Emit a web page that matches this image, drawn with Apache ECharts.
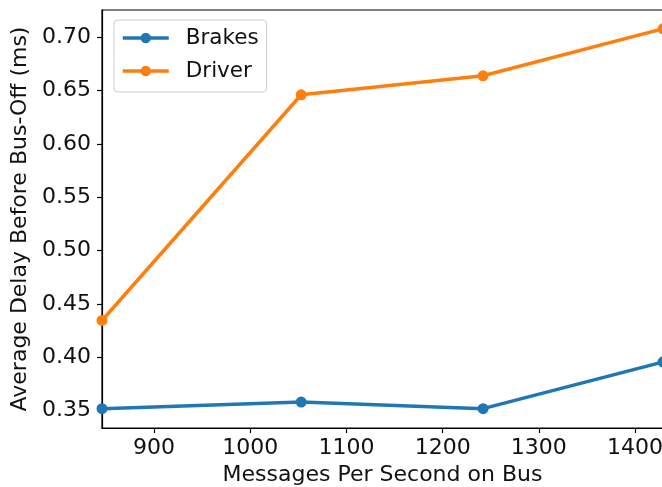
<!DOCTYPE html>
<html>
<head>
<meta charset="utf-8">
<script src="https://cdn.jsdelivr.net/npm/echarts@6/dist/echarts.min.js"></script>
<style>
html,body{margin:0;padding:0;background:#fff;}
#chart{width:662px;height:487px;}
</style>
</head>
<body>
<div id="chart"></div>
<script>
const messagesPerSecond = [846, 1053, 1242, 1429];
const brakesDelay = [0.3519, 0.3581, 0.3519, 0.3956];
const driverDelay = [0.4345, 0.6459, 0.6637, 0.7077];
const xTicks = [900, 1000, 1100, 1200, 1300, 1400];
const yTicks = [0.35, 0.40, 0.45, 0.50, 0.55, 0.60, 0.65, 0.70];
const seriesNames = ['Brakes', 'Driver'];
const xLabel = 'Messages Per Second on Bus';
const yLabel = 'Average Delay Before Bus-Off (ms)';

const FONT = 'DejaVu Sans';
const FS = 22;
const chart = echarts.init(document.getElementById('chart'), null, {renderer: 'canvas'});
const pair = (xs, ys) => xs.map((x, i) => [x, ys[i]]);

chart.setOption({
  animation: false,
  backgroundColor: '#fff',
  grid: {
    left: 102, top: 10, right: -1, bottom: 59,
    outerBoundsMode: 'none', containLabel: false,
    show: true, borderColor: '#000', borderWidth: 1.2, backgroundColor: 'transparent'
  },
  legend: {
    orient: 'vertical',
    left: 114, top: 20,
    data: seriesNames,
    itemWidth: 46, itemHeight: 13, itemGap: 11,
    padding: [7, 8, 10, 7],
    backgroundColor: '#fff',
    borderColor: '#cccccc', borderWidth: 1, borderRadius: 4,
    lineStyle: {width: 3.5},
    textStyle: {fontFamily: FONT, fontSize: 21.5, color: '#111', padding: [0, 0, 0, 12], lineHeight: 22}
  },
  xAxis: {
    type: 'value',
    min: messagesPerSecond[0], max: messagesPerSecond[messagesPerSecond.length - 1],
    name: xLabel, nameLocation: 'middle', nameGap: 35,
    nameTextStyle: {fontFamily: FONT, fontSize: FS, color: '#111'},
    axisLine: {show: true, onZero: false, lineStyle: {color: '#000', width: 1.2}},
    axisTick: {show: true, length: 5, lineStyle: {color: '#000', width: 1.2}, customValues: xTicks},
    axisLabel: {fontFamily: FONT, fontSize: FS, color: '#111', margin: 9, customValues: xTicks,
      formatter: v => String(Math.round(v))},
    splitLine: {show: false}
  },
  yAxis: {
    type: 'value',
    min: 0.3338, max: 0.7253,
    name: yLabel, nameLocation: 'middle', nameGap: 67, nameRotate: 90,
    nameTextStyle: {fontFamily: FONT, fontSize: FS, color: '#111'},
    axisLine: {show: true, onZero: false, lineStyle: {color: '#000', width: 1.2}},
    axisTick: {show: true, length: 5, lineStyle: {color: '#000', width: 1.2}, customValues: yTicks},
    axisLabel: {fontFamily: FONT, fontSize: FS, color: '#111', margin: 11, customValues: yTicks,
      formatter: v => v.toFixed(2)},
    splitLine: {show: false}
  },
  series: [
    {
      name: seriesNames[0], type: 'line', data: pair(messagesPerSecond, brakesDelay),
      symbol: 'circle', symbolSize: 11, color: '#1f77b4',
      lineStyle: {width: 3.5, color: '#1f77b4'}, itemStyle: {color: '#1f77b4'},
      clip: false
    },
    {
      name: seriesNames[1], type: 'line', data: pair(messagesPerSecond, driverDelay),
      symbol: 'circle', symbolSize: 11, color: '#ff7f0e',
      lineStyle: {width: 3.5, color: '#ff7f0e'}, itemStyle: {color: '#ff7f0e'},
      clip: false
    }
  ]
});
</script>
</body>
</html>
